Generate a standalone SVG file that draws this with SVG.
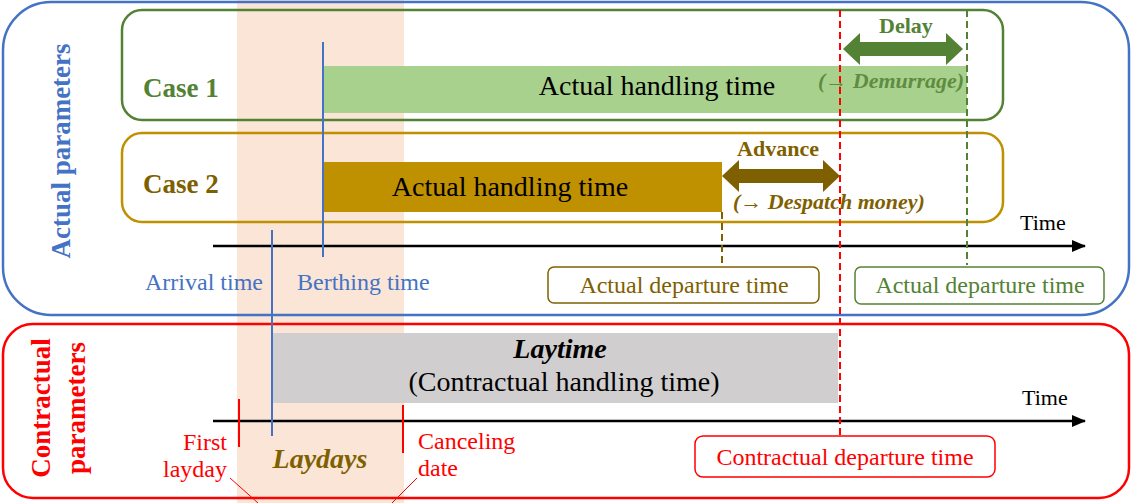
<svg xmlns="http://www.w3.org/2000/svg" width="1132" height="503" viewBox="0 0 1132 503">
<style>
text{font-family:"Liberation Serif","Times New Roman",serif}
.b{font-weight:bold}
.bi{font-weight:bold;font-style:italic}
.blue{fill:#4472C4}
.green{fill:#548235}
.gold{fill:#7F6000}
.red{fill:#FF0000}
.blk{fill:#000}
.dash{stroke-width:2;stroke-dasharray:7,4;fill:none}
</style>
<defs>
<marker id="ah" viewBox="0 0 14 12" refX="13" refY="6" markerWidth="14" markerHeight="12" markerUnits="userSpaceOnUse" orient="auto">
<path d="M0,0 L14,6 L0,12 Z" fill="#000"/>
</marker>
</defs>
<rect width="1132" height="503" fill="#fff"/>
<rect id="laydays-band" x="237" y="0" width="167" height="503" fill="#FBE5D6"/>

<g id="actual-parameters">
<rect x="3" y="2" width="1126" height="313" rx="48" fill="none" stroke="#4472C4" stroke-width="2.5"/>
<text class="b blue" font-size="27" text-anchor="middle" x="70" y="151" transform="rotate(-90 70 151)">Actual parameters</text>
</g>

<g id="contractual-parameters">
<rect x="3" y="324" width="1126" height="174" rx="30" fill="none" stroke="#FF0000" stroke-width="2.5"/>
<text class="b red" font-size="27" text-anchor="middle" x="50" y="408" transform="rotate(-90 50 408)">Contractual</text>
<text class="b red" font-size="27" text-anchor="middle" x="85" y="408" transform="rotate(-90 85 408)">parameters</text>
</g>

<g id="case1">
<rect x="122" y="10" width="881" height="110" rx="20" fill="none" stroke="#548235" stroke-width="2.5"/>
<text class="b green" font-size="27" x="143" y="97">Case 1</text>
</g>
<g id="case1-handling">
<rect x="323" y="66" width="644" height="47" fill="#A9D18E"/>
<text class="blk" font-size="28" text-anchor="middle" x="657" y="95">Actual handling time</text>
</g>

<g id="case2">
<rect x="122" y="133" width="881" height="89" rx="20" fill="none" stroke="#BF9000" stroke-width="2.5"/>
<text class="b gold" font-size="27" x="143" y="193">Case 2</text>
</g>
<g id="case2-handling">
<rect x="323" y="162" width="399" height="50" fill="#BF9000"/>
<text class="blk" font-size="28" text-anchor="middle" x="510" y="196">Actual handling time</text>
</g>

<g id="laytime">
<rect x="272" y="333" width="566" height="70" fill="#D0CECE"/>
<text class="bi blk" font-size="28" text-anchor="middle" x="560" y="358">Laytime</text>
<text class="blk" font-size="28" text-anchor="middle" x="564" y="391">(Contractual handling time)</text>
</g>

<g id="connectors">
<line x1="213" y1="246" x2="1085" y2="246" stroke="#000" stroke-width="2.5" marker-end="url(#ah)"/>
<line x1="213" y1="421" x2="1085" y2="421" stroke="#000" stroke-width="2.5" marker-end="url(#ah)"/>
<line class="dash" x1="840" y1="10" x2="840" y2="440" stroke="#FF0000"/>
<line class="dash" x1="967" y1="10" x2="967" y2="265" stroke="#548235"/>
<line class="dash" x1="722" y1="212" x2="722" y2="263" stroke="#7F6000"/>
<line x1="323" y1="42" x2="323" y2="257" stroke="#4472C4" stroke-width="2"/>
<line x1="272" y1="230" x2="272" y2="436" stroke="#4472C4" stroke-width="2"/>
<line x1="239" y1="399" x2="239" y2="447" stroke="#FF0000" stroke-width="2"/>
<line x1="403" y1="405" x2="403" y2="453" stroke="#FF0000" stroke-width="2"/>
<line x1="230" y1="478" x2="258" y2="503" stroke="#FF0000" stroke-width="1"/>
<line x1="417" y1="478" x2="392" y2="503" stroke="#FF0000" stroke-width="1"/>
<polygon id="delay-arrow" points="843,49 860,33 860,42 946,42 946,33 963,49 946,65 946,56 860,56 860,65" fill="#548235"/>
<polygon id="advance-arrow" points="722,176 739,160 739,169 823,169 823,160 840,176 823,192 823,183 739,183 739,192" fill="#7F6000"/>
</g>

<g id="delay-label">
<text class="b green" font-size="22" text-anchor="middle" x="906" y="33">Delay</text>
<text class="bi" fill="#5E8C40" font-size="22" x="818" y="88">(→ Demurrage)</text>
</g>
<g id="advance-label">
<text class="b gold" font-size="22" text-anchor="middle" x="778" y="156">Advance</text>
<text class="bi gold" font-size="22" x="733" y="209">(→ Despatch money)</text>
</g>

<g id="time-labels">
<text class="blk" font-size="22" x="1020" y="230">Time</text>
<text class="blk" font-size="22" x="1022" y="405">Time</text>
</g>

<g id="arrival-time"><text class="blue" font-size="24" x="145" y="290">Arrival time</text></g>
<g id="berthing-time"><text class="blue" font-size="24" x="297" y="290">Berthing time</text></g>

<g id="departure-case2">
<rect x="548" y="267" width="271" height="36" rx="6" fill="#fff" stroke="#7F6000" stroke-width="1.5"/>
<text class="gold" font-size="24" text-anchor="middle" x="684" y="293">Actual departure time</text>
</g>
<g id="departure-case1">
<rect x="855" y="267" width="249" height="37" rx="6" fill="#fff" stroke="#548235" stroke-width="1.5"/>
<text class="green" font-size="24" text-anchor="middle" x="980" y="293">Actual departure time</text>
</g>
<g id="contractual-departure">
<rect x="695" y="436" width="300" height="41" rx="8" fill="#fff" stroke="#FF0000" stroke-width="1.5"/>
<text class="red" font-size="24" text-anchor="middle" x="845" y="465">Contractual departure time</text>
</g>

<g id="first-layday">
<text class="red" font-size="24" text-anchor="end" x="227" y="450">First</text>
<text class="red" font-size="24" text-anchor="end" x="227" y="477">layday</text>
</g>
<g id="canceling-date">
<text class="red" font-size="24" x="418" y="449">Canceling</text>
<text class="red" font-size="24" x="418" y="476">date</text>
</g>
<g id="laydays"><text class="bi gold" font-size="28" text-anchor="middle" x="320" y="468">Laydays</text></g>
</svg>
